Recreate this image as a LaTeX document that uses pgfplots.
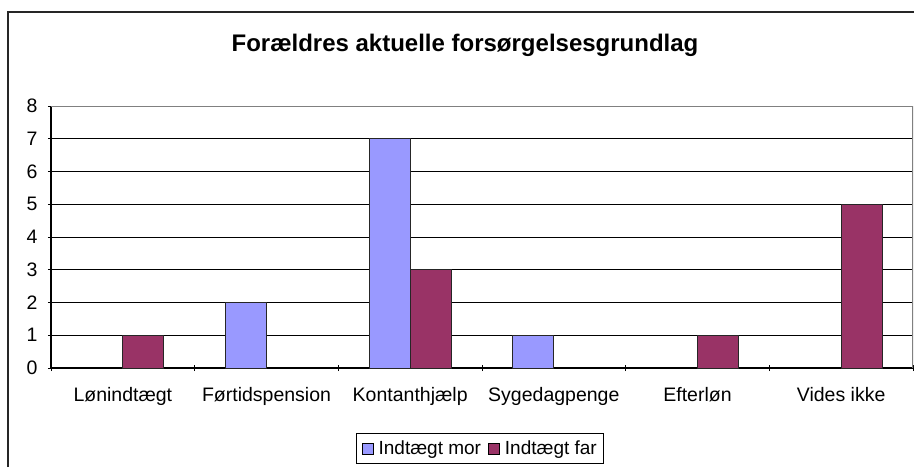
\documentclass[border=0pt]{standalone}
\usepackage{pgfplots}
\pgfplotsset{compat=1.18}
\usepackage{fontspec}
\setmainfont{Liberation Sans}
\definecolor{mor}{HTML}{9999FF}
\definecolor{far}{HTML}{993366}
\begin{document}
\begin{tikzpicture}
\useasboundingbox (0pt,0pt) rectangle (914pt,467pt);
\draw[line width=1.4pt,black!85] (8pt,0pt) -- (8pt,455pt) -- (914pt,455pt);
\node[font=\fontsize{24}{28}\selectfont\bfseries] at (465pt,422pt) {Forældres aktuelle forsørgelsesgrundlag};
\begin{axis}[
  at={(51pt,99pt)}, anchor=south west,
  scale only axis, width=862pt, height=262pt,
  ybar=0pt, bar width=41pt,
  xmin=-0.5, xmax=5.5, ymin=0, ymax=8,
  ytick={0,1,...,8},
  xtick={0,1,2,3,4,5},
  xticklabels={Lønindtægt,Førtidspension,Kontanthjælp,Sygedagpenge,Efterløn,Vides ikke},
  major x tick style={draw=none},
  minor xtick={-0.5,0.5,...,5.5},
  minor x tick style={black, line width=0.8pt},
  minor tick length=6pt,
  major tick length=6pt,
  tick align=outside,
  y tick style={black, line width=0.8pt},
  axis lines=left,
  axis line style={-, black, line width=1.2pt},
  ymajorgrids,
  grid style={black, line width=0.8pt},
  /pgf/number format/assume math mode=true,
  ticklabel style={font=\fontsize{19.5}{22}\selectfont},
  xticklabel style={yshift=-13pt},
  yticklabel style={xshift=-7pt},
  legend columns=2,
  legend style={at={(0.498,-0.307)}, anchor=center, draw=black, line width=0.8pt,
    font=\fontsize{19}{22}\selectfont, inner xsep=5pt, inner ysep=5pt,
    /tikz/every even column/.append style={column sep=5pt}},
  legend image code/.code={\draw[#1,draw=black,line width=0.8pt] (0pt,-5.5pt) rectangle (11pt,5.5pt);
    \path (14pt,0pt);},
]
\addplot[fill=mor, draw=black!85, line width=1pt, bar shift=-20.5pt] coordinates {(1,2) (2,7) (3,1)};
\addplot[fill=far, draw=black!85, line width=1pt, bar shift=20.5pt] coordinates {(0,1) (2,3) (4,1) (5,5)};
\legend{Indtægt mor, Indtægt far}
\draw[gray, line width=1.2pt] (rel axis cs:0,1) -- (rel axis cs:1,1) -- (rel axis cs:1,0);
\end{axis}
\end{tikzpicture}
\end{document}
